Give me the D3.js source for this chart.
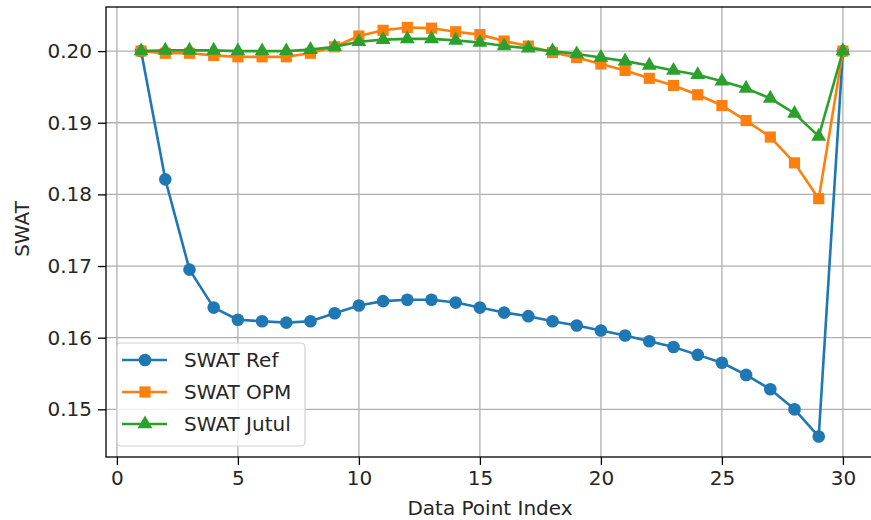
<!DOCTYPE html>
<html>
<head>
<meta charset="utf-8">
<script src="https://cdn.jsdelivr.net/npm/d3@7"></script>
<style>
  body { margin: 0; background: #fff; }
  text { font-family: "DejaVu Sans", sans-serif; fill: #262626; }
</style>
</head>
<body>
<div id="chart"></div>
<script>
var width = 871,
    height = 520;

// data, index 1..30
var index = d3.range(1, 31);
var swatRef = [0.2000, 0.1821, 0.1695, 0.1642, 0.1625, 0.1623, 0.1621, 0.1623, 0.1634, 0.1645,
               0.1651, 0.1653, 0.1653, 0.1649, 0.1642, 0.1635, 0.1630, 0.1623, 0.1617, 0.1610,
               0.1603, 0.1595, 0.1587, 0.1576, 0.1565, 0.1548, 0.1528, 0.1500, 0.1462, 0.2000];
var swatOpm = [0.2000, 0.1997, 0.1997, 0.1994, 0.1992, 0.1992, 0.1992, 0.1997, 0.2006, 0.2021,
               0.2029, 0.2033, 0.2032, 0.2027, 0.2023, 0.2014, 0.2007, 0.1998, 0.1991, 0.1982,
               0.1973, 0.1962, 0.1952, 0.1939, 0.1924, 0.1903, 0.1880, 0.1844, 0.1794, 0.2000];
var swatJutul = [0.2000, 0.2001, 0.2001, 0.2001, 0.2000, 0.2000, 0.2000, 0.2002, 0.2006, 0.2013,
                 0.2016, 0.2017, 0.2017, 0.2015, 0.2012, 0.2007, 0.2004, 0.2000, 0.1996, 0.1991,
                 0.1986, 0.1980, 0.1973, 0.1967, 0.1958, 0.1948, 0.1934, 0.1913, 0.1881, 0.2000];
var seriesNames = ["SWAT Ref", "SWAT OPM", "SWAT Jutul"];
var xTicks = [0, 5, 10, 15, 20, 25, 30];
var yTicks = [0.15, 0.16, 0.17, 0.18, 0.19, 0.20];

var colors = ["#1f77b4", "#ff7f0e", "#2ca02c"];
var symbols = [d3.symbolCircle, d3.symbolSquare, d3.symbolTriangle];
var symSize = [125, 125, 95];

var series = [swatRef, swatOpm, swatJutul].map(function(vals, i) {
  return { name: seriesNames[i], values: vals.map(function(v, j) { return { x: index[j], y: v }; }) };
});

var mLeft = 106, mTop = 7, mBottom = 457, mRight = 878;

// matplotlib-like 5% margins
var allY = swatRef.concat(swatOpm, swatJutul);
var yMin = d3.min(allY), yMax = d3.max(allY), yPad = (yMax - yMin) * 0.05;
var xPad = (30 - 1) * 0.05;

var x = d3.scaleLinear().domain([1 - xPad, 30 + xPad]).range([mLeft, mRight]);
var y = d3.scaleLinear().domain([yMin - yPad, yMax + yPad]).range([mBottom, mTop]);

var svg = d3.select("#chart")
    .append("svg")
    .attr("width", width)
    .attr("height", height);

svg.append("defs").append("clipPath")
    .attr("id", "plot-clip")
  .append("rect")
    .attr("x", mLeft).attr("y", mTop)
    .attr("width", mRight - mLeft).attr("height", mBottom - mTop);

// grid
var grid = svg.append("g");
grid.selectAll(".gx")
    .data(xTicks)
  .enter().append("line")
    .attr("x1", function(d) { return x(d); })
    .attr("x2", function(d) { return x(d); })
    .attr("y1", mTop).attr("y2", mBottom)
    .style("stroke", "#b0b0b0").style("stroke-width", 1.3);
grid.selectAll(".gy")
    .data(yTicks)
  .enter().append("line")
    .attr("y1", function(d) { return y(d); })
    .attr("y2", function(d) { return y(d); })
    .attr("x1", mLeft).attr("x2", mRight)
    .style("stroke", "#b0b0b0").style("stroke-width", 1.3);

// lines + markers
var line = d3.line()
    .x(function(d) { return x(d.x); })
    .y(function(d) { return y(d.y); });

var plot = svg.append("g").attr("clip-path", "url(#plot-clip)");

series.forEach(function(s, i) {
  var g = plot.append("g");
  g.append("path")
      .datum(s.values)
      .attr("d", line)
      .style("fill", "none")
      .style("stroke", colors[i])
      .style("stroke-width", 2.6)
      .style("stroke-linejoin", "round");
  g.selectAll(".pt")
      .data(s.values)
    .enter().append("path")
      .attr("transform", function(d) { return "translate(" + x(d.x) + "," + y(d.y) + ")"; })
      .attr("d", d3.symbol().type(symbols[i]).size(symSize[i]))
      .style("fill", colors[i]);
});

// axes
var xAxis = svg.append("g")
    .attr("transform", "translate(0," + mBottom + ")")
    .call(d3.axisBottom(x).tickValues(xTicks).tickSize(8).tickPadding(6).tickFormat(d3.format("d")));
var yAxis = svg.append("g")
    .attr("transform", "translate(" + mLeft + ",0)")
    .call(d3.axisLeft(y).tickValues(yTicks).tickSize(8).tickPadding(6).tickFormat(d3.format(".2f")));

[xAxis, yAxis].forEach(function(a) {
  a.select(".domain").remove();
  a.selectAll("line").style("stroke", "#000").style("stroke-width", 1.3);
  a.selectAll("text").style("font-size", "20px").style("fill", "#262626")
      .style("font-family", "'DejaVu Sans', sans-serif");
});

// spines
svg.append("rect")
    .attr("x", mLeft).attr("y", mTop)
    .attr("width", mRight - mLeft).attr("height", mBottom - mTop)
    .style("fill", "none").style("stroke", "#000").style("stroke-width", 1.3);

svg.append("text")
    .attr("x", (mLeft + mRight) / 2 - 2)
    .attr("y", 515)
    .attr("text-anchor", "middle")
    .style("font-size", "20px")
    .text("Data Point Index");

svg.append("text")
    .attr("transform", "translate(29," + 229 + ") rotate(-90)")
    .attr("text-anchor", "middle")
    .style("font-size", "20px")
    .text("SWAT");

// legend
var legend = svg.append("g");
legend.append("rect")
    .attr("x", 117).attr("y", 343)
    .attr("width", 188).attr("height", 103)
    .attr("rx", 4)
    .style("fill", "rgba(255,255,255,0.8)")
    .style("stroke", "#d0d0d0").style("stroke-width", 1.2);

var item = legend.selectAll(".item")
    .data(series)
  .enter().append("g")
    .attr("transform", function(d, i) { return "translate(0," + (360 + i * 32) + ")"; });

item.append("line")
    .attr("x1", 122).attr("x2", 167)
    .style("stroke", function(d, i) { return colors[i]; })
    .style("stroke-width", 2.6);
item.append("path")
    .attr("transform", "translate(145,0)")
    .attr("d", function(d, i) { return d3.symbol().type(symbols[i]).size(symSize[i])(); })
    .style("fill", function(d, i) { return colors[i]; });
item.append("text")
    .attr("x", 184)
    .attr("dy", "0.36em")
    .style("font-size", "20px")
    .text(function(d) { return d.name; });
</script>
</body>
</html>
